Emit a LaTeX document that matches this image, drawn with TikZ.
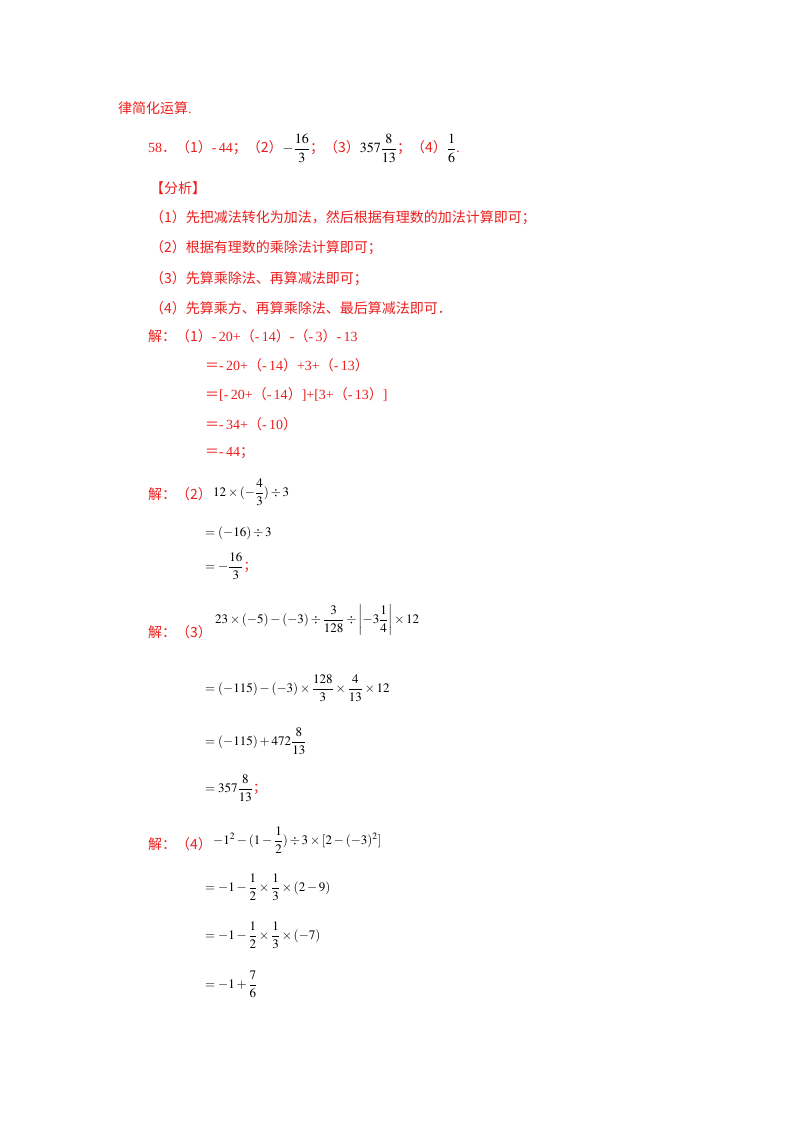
\documentclass[tikz,border=0pt]{standalone}
\usepackage{amsmath}
\usepackage{mathptmx}
\usepackage{fontspec}
\setmainfont{Liberation Serif}
\newfontfamily\cjk{Noto Sans CJK SC}
\definecolor{rd}{RGB}{235,30,30}
\begin{document}
\begin{tikzpicture}[x=1pt,y=-1pt,
  t/.style={anchor=west,inner sep=0pt,text=rd,font=\fontsize{14}{16}\selectfont},
  m/.style={anchor=west,inner sep=0pt,font=\fontsize{13}{15}\selectfont}]
\useasboundingbox (0,0) rectangle (800,1132);
\node[t] (a0) at (118,108) {{\cjk 律简化运算}.};
\node[t] (a1) at (148,148) {58{\cjk ．（1）}-\,44{\cjk；（2）}\textcolor{black}{$-\dfrac{16}{3}$}{\cjk；（3）}\textcolor{black}{$357\dfrac{8}{13}$}{\cjk；（4）}\textcolor{black}{$\dfrac{1}{6}$}.};
\node[t] (b0) at (150,188) {\cjk 【分析】};
\node[t] (b1) at (150,218) {\cjk （1）先把减法转化为加法，然后根据有理数的加法计算即可；};
\node[t] (b2) at (150,248) {\cjk （2）根据有理数的乘除法计算即可；};
\node[t] (b3) at (150,279) {\cjk （3）先算乘除法、再算减法即可；};
\node[t] (b4) at (150,308) {\cjk （4）先算乘方、再算乘除法、最后算减法即可．};
\node[t] (c0) at (148,336) {{\cjk 解：（1）}-\,20+{\cjk（}-\,14{\cjk）}-{\cjk（}-\,3{\cjk）}-\,13};
\node[t] (c1) at (205,365) {{\cjk ＝}-\,20+{\cjk（}-\,14{\cjk）}+3+{\cjk（}-\,13{\cjk）}};
\node[t] (c2) at (205,394) {{\cjk ＝}[-\,20+{\cjk（}-\,14{\cjk）}]+[3+{\cjk（}-\,13{\cjk）}]};
\node[t] (c3) at (205,424) {{\cjk ＝}-\,34+{\cjk（}-\,10{\cjk）}};
\node[t] (c4) at (205,453) {{\cjk ＝}-\,44{\cjk；}};
\node[t] (d0) at (148,494) {\cjk 解：（2）};
\node[m] (d1) at (213,492) {$12\times(-\dfrac{4}{3})\div3$};
\node[m] (d2) at (205,533) {$=(-16)\div3$};
\node[m] (d3) at (205,566) {$=-\dfrac{16}{3}$\textcolor{rd}{\cjk ；}};
\node[t] (e0) at (148,632) {\cjk 解：（3）};
\node[m] (e1) at (215,620) {$23\times(-5)-(-3)\div\dfrac{3}{128}\div\left|-3\dfrac{1}{4}\right|\times12$};
\node[m] (e2) at (205,688) {$=(-115)-(-3)\times\dfrac{128}{3}\times\dfrac{4}{13}\times12$};
\node[m] (e3) at (205,741) {$=(-115)+472\dfrac{8}{13}$};
\node[m] (e4) at (205,788) {$=357\dfrac{8}{13}$\textcolor{rd}{\cjk ；}};
\node[t] (f0) at (148,844) {\cjk 解：（4）};
\node[m] (f1) at (213,840) {$-1^2-(1-\dfrac{1}{2})\div3\times[2-(-3)^2]$};
\node[m] (f2) at (205,887) {$=-1-\dfrac{1}{2}\times\dfrac{1}{3}\times(2-9)$};
\node[m] (f3) at (205,935) {$=-1-\dfrac{1}{2}\times\dfrac{1}{3}\times(-7)$};
\node[m] (f4) at (205,984) {$=-1+\dfrac{7}{6}$};
\end{tikzpicture}
\end{document}
